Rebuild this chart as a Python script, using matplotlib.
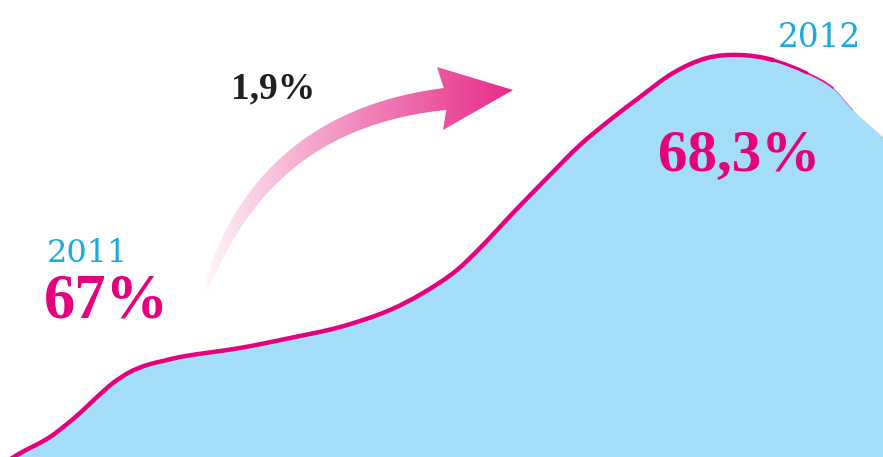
import numpy as np
import matplotlib
matplotlib.use("Agg")
import matplotlib.pyplot as plt
from matplotlib.path import Path
from matplotlib.patches import PathPatch, Polygon
from matplotlib.colors import to_rgb

# share curve, in canvas units (x right, y down)
curve_x = [0, 17, 50, 67, 80, 97, 113, 130, 147, 163, 180, 213, 240, 290, 340, 390,
           423, 457, 480, 513, 547, 580, 610, 640, 673, 707, 740, 773, 807, 833, 853, 883]
curve_y = [466, 455, 437, 424, 413, 397, 383, 372, 365, 361, 357, 352, 348, 338, 327, 310,
           293, 270, 248, 213, 178, 145, 120, 97, 73, 58, 55, 60, 73, 88, 110, 137]

year_labels = ["2011", "2012"]
share_labels = ["67%", "68,3%"]
change_label = "1,9%"

magenta = "#E5007D"
cyan = "#1BA9E1"
fill_blue = "#A4DDF7"
dark = "#231F20"

xs = np.array(curve_x, dtype=float)
ys = np.array(curve_y, dtype=float)
n = len(xs)

# slope at each point: mean of the neighbouring secants
sec = np.diff(ys) / np.diff(xs)
slope = np.empty(n)
slope[0] = sec[0]
slope[-1] = sec[-1]
slope[1:-1] = (sec[:-1] + sec[1:]) / 2


def smooth_path(i0, i1, closed_bottom=False):
    # cubic hermite pieces y(x), written as beziers
    verts = [(xs[i0], ys[i0])]
    codes = [Path.MOVETO]
    for i in range(i0, i1):
        dx = xs[i + 1] - xs[i]
        verts += [(xs[i] + dx / 3, ys[i] + slope[i] * dx / 3),
                  (xs[i + 1] - dx / 3, ys[i + 1] - slope[i + 1] * dx / 3),
                  (xs[i + 1], ys[i + 1])]
        codes += [Path.CURVE4] * 3
    if closed_bottom:
        verts += [(xs[i1] + 5, 480), (xs[i0] - 5, 480), (xs[i0], ys[i0])]
        codes += [Path.LINETO, Path.LINETO, Path.CLOSEPOLY]
    return Path(verts, codes)


fig = plt.figure(figsize=(8.83, 4.57), dpi=100)
ax = fig.add_axes([0, 0, 1, 1])
ax.set_xlim(0, 883)
ax.set_ylim(457, 0)
ax.axis("off")

ax.add_patch(PathPatch(smooth_path(0, n - 1, closed_bottom=True),
                       facecolor=fill_blue, edgecolor="none", zorder=1))

# line is full strength up to the peak, then thins out
k = curve_x.index(773)
ax.add_patch(PathPatch(smooth_path(0, k), facecolor="none", edgecolor=magenta,
                       lw=3.2, capstyle="round", zorder=2))
for j, (lw, a) in enumerate([(2.2, 1.0), (1.3, 0.9), (0.6, 0.6)]):
    ax.add_patch(PathPatch(smooth_path(k + j, k + j + 1), facecolor="none",
                           edgecolor=magenta, lw=lw, alpha=a,
                           capstyle="round", zorder=2))

# curved gradient arrow
P0 = np.array([205.0, 292.0])
P1 = np.array([262.0, 120.0])
P2 = np.array([445.0, 99.0])
t = np.linspace(0, 1, 80)[:, None]
centre = (1 - t) ** 2 * P0 + 2 * (1 - t) * t * P1 + t ** 2 * P2
tang = 2 * (1 - t) * (P1 - P0) + 2 * t * (P2 - P1)
tang /= np.linalg.norm(tang, axis=1)[:, None]
norm = np.column_stack([-tang[:, 1], tang[:, 0]])
w = 22 * t[:, 0] ** 0.4
edge_a = centre - norm * w[:, None] / 2
edge_b = centre + norm * w[:, None] / 2
head = np.array([[437, 67], [513, 90], [443, 130]], dtype=float)
outline = np.vstack([edge_a, head, edge_b[::-1]])
clip = Polygon(outline, closed=True, facecolor="none", edgecolor="none",
               transform=ax.transData)
ax.add_patch(clip)

gx = np.linspace(0, 1, 400)
rgba = np.zeros((1, 400, 4))
rgba[..., :3] = to_rgb("#E62A88")
rgba[0, :, 3] = gx ** 0.85
im = ax.imshow(rgba, extent=[200, 515, 300, 60], aspect="auto",
               interpolation="bilinear", zorder=3)
im.set_clip_path(clip)
ax.set_xlim(0, 883)
ax.set_ylim(457, 0)

# labels
ax.text(47, 262, year_labels[0], color=cyan, fontsize=23,
        family="DejaVu Serif", va="baseline", ha="left", zorder=4)
ax.text(778, 47, year_labels[1], color=cyan, fontsize=23.5,
        family="DejaVu Serif", va="baseline", ha="left", zorder=4)
ax.text(44, 317, share_labels[0], color=magenta, fontsize=45,
        family="Liberation Serif", weight="bold", va="baseline", ha="left", zorder=4)
ax.text(658, 170, share_labels[1], color=magenta, fontsize=42.5,
        family="Liberation Serif", weight="bold", va="baseline", ha="left", zorder=4)
ax.text(231, 98, change_label, color=dark, fontsize=27,
        family="Liberation Serif", weight="bold", va="baseline", ha="left", zorder=4)

plt.savefig("out.png", dpi=100)
